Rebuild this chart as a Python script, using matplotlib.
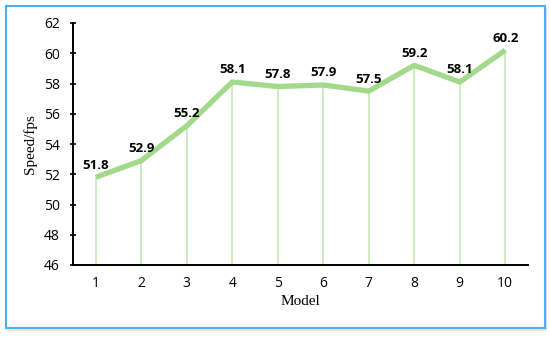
import numpy as np
import matplotlib.pyplot as plt
from matplotlib.patches import Rectangle

models = [1, 2, 3, 4, 5, 6, 7, 8, 9, 10]
speed = [51.8, 52.9, 55.2, 58.1, 57.8, 57.9, 57.5, 59.2, 58.1, 60.2]
yticks = [46, 48, 50, 52, 54, 56, 58, 60, 62]

line_green = '#a3d98b'
drop_green = '#c6e8b6'

fig = plt.figure(figsize=(5.5, 3.39), dpi=100)

# blue frame with a soft shadow (kept under the axes)
fig.patches.append(Rectangle((8 / 550, 1 - 331 / 339), 539 / 550, 322 / 339,
                             transform=fig.transFigure, facecolor='#e6e6e6',
                             edgecolor='none', zorder=-2))
fig.patches.append(Rectangle((6 / 550, 1 - 328 / 339), 539 / 550, 322 / 339,
                             transform=fig.transFigure, facecolor='white',
                             edgecolor='#4aaef0', linewidth=1.5, zorder=-1))

ax = fig.add_axes([73 / 550, 1 - 265 / 339, 455 / 550, 242 / 339])
ax.patch.set_alpha(0)

ax.vlines(models, 46, speed, color=drop_green, linewidth=1.2, zorder=1)
ax.plot(models, speed, color=line_green, linewidth=3.8, solid_capstyle='butt', zorder=2)

for x, y in zip(models, speed):
    ax.annotate(f'{y:.1f}', (x, y), xytext=(0, 4), textcoords='offset points',
                ha='center', va='bottom', fontsize=9.5, fontweight='bold',
                family='Open Sans')

ax.set_xlim(0.5, 10.5)
ax.set_ylim(46, 62)
ax.set_xticks(models)
ax.set_yticks(yticks)
for lab in ax.get_xticklabels() + ax.get_yticklabels():
    lab.set_family('Open Sans')
    lab.set_fontsize(10)
ax.tick_params(axis='x', length=0, pad=8)
ax.tick_params(axis='y', length=5, width=1.2, direction='inout', pad=7)
for s in ['top', 'right']:
    ax.spines[s].set_visible(False)
ax.spines['left'].set_linewidth(1.4)
ax.spines['bottom'].set_linewidth(1.4)

ax.set_xlabel('Model', family='Liberation Serif', fontsize=11, labelpad=3)
ax.set_ylabel('Speed/fps', family='Liberation Serif', fontsize=11, labelpad=5)

fig.savefig('out.png', dpi=100)
